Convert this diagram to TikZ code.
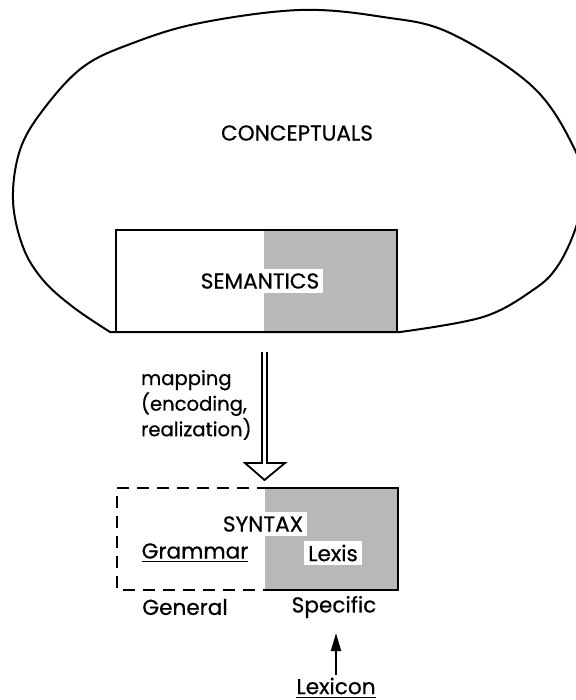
\documentclass[tikz,border=0pt]{standalone}
\usepackage{fontspec}
\setmainfont{Poppins}[UprightFeatures={FakeBold=0.6}]
\usetikzlibrary{arrows.meta}

\begin{document}
\begin{tikzpicture}[x=0.5pt,y=-0.5pt,
  every node/.style={font=\fontsize{10.8}{11.5}\selectfont},
  boxline/.style={line width=1.2pt},
  shaded/.style={fill=black!28},
  whitelbl/.style={fill=white,inner sep=2pt}]
  \useasboundingbox (0,0) rectangle (575,700);

  % conceptual blob
  \draw[line width=1pt] (110,332) -- plot[smooth,tension=0.6] coordinates {(400,332) (483,317) (533,290) (557,267) (575,230) (584,190) (575,150) (533,87) (450,33) (383,17) (300,10) (200,23) (133,43) (83,67) (43,110) (20,150) (13,200) (23,247) (43,280) (73,307) (110,332)} -- cycle;
  \node (concept) at (297,133) {CONCEPTUALS};

  % semantics
  \fill[shaded] (264,230) rectangle (397,332);
  \draw[boxline] (116,230) rectangle (397,332);
  \node[whitelbl] (sem) at (260,281) {SEMANTICS};

  % mapping arrow
  \coordinate (maptop) at (264.5,352);
  \coordinate (maptip) at (264.5,480);
  \draw[line width=0.9pt] (262,352) -- (262,463) -- (245,463) -- (maptip) -- (285,463) -- (267,463) -- (267,352);
  \node[align=left,anchor=west,font=\fontsize{9.8}{11.5}\selectfont] (mapping) at (134,405) {mapping\\(encoding,\\realization)};

  % syntax
  \fill[shaded] (265,488) rectangle (398,590);
  \draw[boxline] (265,488) -- (398,488) -- (398,590) -- (265,590);
  \draw[boxline,dash pattern=on 6pt off 4pt,dash phase=2pt] (265,488) -- (117,488) -- (117,590) -- (265,590);
  \node[whitelbl] (syntax) at (263,524) {SYNTAX};
  \node (grammar) at (195,553) {\underline{Grammar}};
  \node[whitelbl] (lexis) at (333,553) {Lexis};
  \node (general) at (185,607) {General};
  \node (specific) at (334,607) {Specific};

  % lexicon
  \node (lexicon) at (336,688) {\underline{Lexicon}};
  \draw[line width=1pt,-{Triangle[length=9pt,width=5pt]},shorten <=-2pt,shorten >=4pt] (lexicon.north) -- (lexicon.north |- specific.south);
\end{tikzpicture}
\end{document}
